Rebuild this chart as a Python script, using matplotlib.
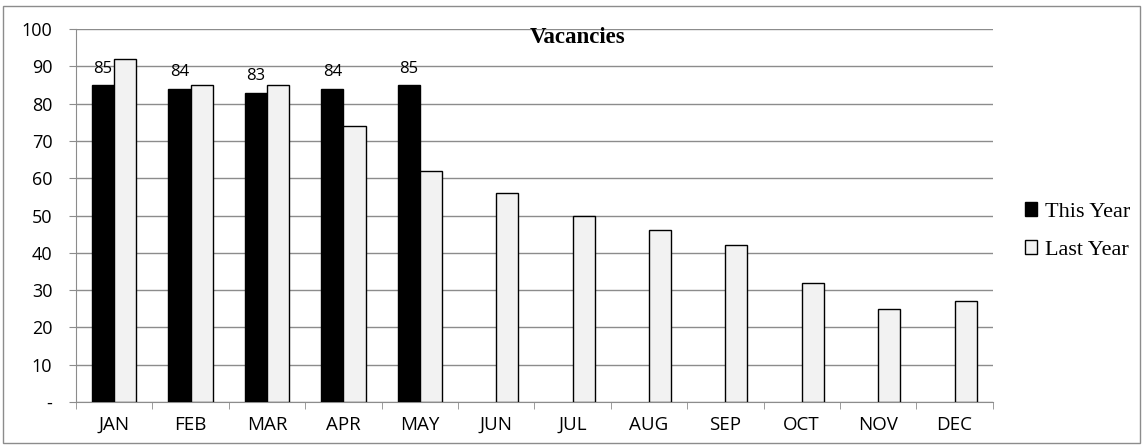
import matplotlib.pyplot as plt
from matplotlib.patches import Rectangle
import numpy as np

# data
months = ["JAN", "FEB", "MAR", "APR", "MAY", "JUN", "JUL", "AUG", "SEP", "OCT", "NOV", "DEC"]
this_year = [85, 84, 83, 84, 85]
last_year = [92, 85, 85, 74, 62, 56, 50, 46, 42, 32, 25, 27]
y_ticks = [0, 10, 20, 30, 40, 50, 60, 70, 80, 90, 100]
y_tick_labels = ["-", "10", "20", "30", "40", "50", "60", "70", "80", "90", "100"]

fig = plt.figure(figsize=(11.43, 4.46), dpi=100)
ax = fig.add_axes([0.0665, 0.0987, 0.802, 0.836])

# outer chart border
fig.patches.append(Rectangle((0.003, 0.006), 0.994, 0.98, transform=fig.transFigure,
                             fill=False, edgecolor="#8c8c8c", linewidth=1.0))

x = np.arange(len(months))
w = 0.29
b1 = ax.bar(x[:len(this_year)] - w / 2, this_year, w, color="black", edgecolor="black",
            linewidth=1.0, label="This Year", zorder=3)
b2 = ax.bar(x + w / 2, last_year, w, color="#f2f2f2", edgecolor="black",
            linewidth=1.0, label="Last Year", zorder=3)

for rect, v in zip(b1, this_year):
    ax.annotate(str(v), (rect.get_x() + rect.get_width() / 2, v), xytext=(0, 6),
                textcoords="offset points", ha="center", va="bottom",
                fontsize=12, family="Open Sans")

ax.set_xlim(-0.5, len(months) - 0.5)
ax.set_ylim(0, 100)
ax.set_yticks(y_ticks)
ax.set_yticklabels(y_tick_labels, fontsize=13, family="Open Sans")
ax.set_xticks(x)
ax.set_xticklabels(months, fontsize=13.5, family="Open Sans")
ax.set_xticks(np.arange(-0.5, len(months), 1.0), minor=True)
ax.tick_params(axis="x", which="major", length=0, pad=10)
ax.tick_params(axis="x", which="minor", length=5, color="#8c8c8c")
ax.tick_params(axis="y", length=5, color="#8c8c8c", pad=12)

ax.grid(axis="y", color="#8c8c8c", linewidth=1.0, zorder=0)
for s in ["top", "right"]:
    ax.spines[s].set_visible(False)
ax.spines["left"].set_color("#8c8c8c")
ax.spines["bottom"].set_color("#8c8c8c")

fig.text(0.5057, 0.9036, "Vacancies", ha="center", va="baseline", fontsize=16.5,
         fontweight="bold", family="Liberation Serif", zorder=5)

fig.legend(handles=[b1, b2], loc="center left", bbox_to_anchor=(0.8968, 0.482),
           frameon=False, prop={"family": "Liberation Serif", "size": 16},
           handlelength=0.55, handleheight=0.55, handletextpad=0.36, labelspacing=0.82,
           borderpad=0, borderaxespad=0)

fig.savefig("out.png", dpi=100)
